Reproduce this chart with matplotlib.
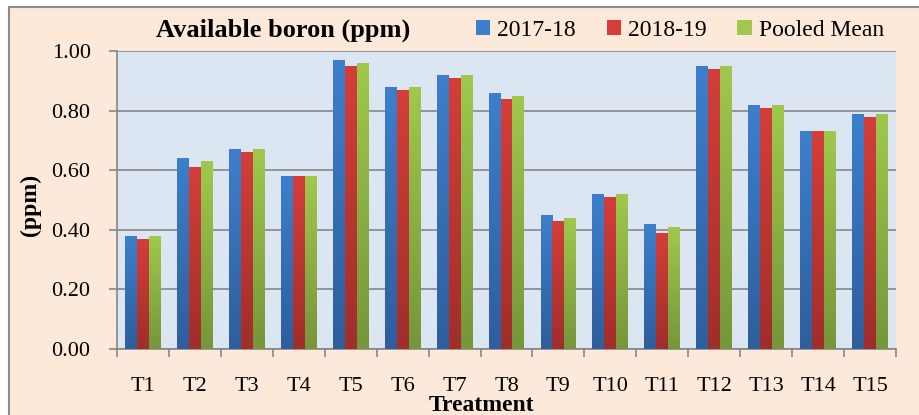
import matplotlib
matplotlib.use("Agg")
import matplotlib.pyplot as plt
import numpy as np
from matplotlib.patches import Rectangle
from matplotlib.colors import LinearSegmentedColormap

categories = ["T1", "T2", "T3", "T4", "T5", "T6", "T7", "T8", "T9", "T10",
              "T11", "T12", "T13", "T14", "T15"]
s2017 = [0.38, 0.64, 0.67, 0.58, 0.97, 0.88, 0.92, 0.86, 0.45, 0.52, 0.42, 0.95, 0.82, 0.73, 0.79]
s2018 = [0.37, 0.61, 0.66, 0.58, 0.95, 0.87, 0.91, 0.84, 0.43, 0.51, 0.39, 0.94, 0.81, 0.73, 0.78]
pooled = [0.38, 0.63, 0.67, 0.58, 0.96, 0.88, 0.92, 0.85, 0.44, 0.52, 0.41, 0.95, 0.82, 0.73, 0.79]
series_names = ["2017-18", "2018-19", "Pooled Mean"]
yticks = [0.0, 0.2, 0.4, 0.6, 0.8, 1.0]

plt.rcParams['font.family'] = ['Liberation Serif', 'DejaVu Serif']

fig = plt.figure(figsize=(9.19, 4.15), dpi=100)
fig.patch.set_facecolor('white')
# chart frame
frame = Rectangle((8.5/919, -0.1), 1.2, 1.1 - 7.5/415, transform=fig.transFigure,
                  facecolor='#FDE9D9', edgecolor='#8C8C8C', linewidth=1.5, zorder=-10)
fig.add_artist(frame)

ax = fig.add_axes([117/919, 1 - 349/415, (896 - 117)/919, (349 - 51)/415])
ax.set_zorder(1)
ax.set_facecolor('#DCE6F2')

grads = [('#3D7FCC', '#2E5E9C'), ('#D43E3A', '#A02E2B'), ('#A0C84C', '#76963A')]
x = np.arange(len(categories))
w = 0.23
data = [s2017, s2018, pooled]
for i, (vals, name, (ctop, cbot)) in enumerate(zip(data, series_names, grads)):
    bars = ax.bar(x + (i - 1) * w, vals, width=w, color=ctop, label=name, zorder=3,
                  linewidth=0)
    cmap = LinearSegmentedColormap.from_list('g%d' % i, [cbot, ctop])
    for b in bars:
        bx, by = b.get_x(), b.get_y()
        bw, bh = b.get_width(), b.get_height()
        grad = np.linspace(0, 1, 100).reshape(-1, 1)
        im = ax.imshow(grad, cmap=cmap, origin='lower', aspect='auto',
                       extent=[bx, bx + bw, by, by + bh], zorder=4)
        im.set_clip_path(b)

ax.set_xlim(-0.5, len(categories) - 0.5)
ax.set_ylim(0, 1.0)
ax.set_yticks(yticks)
ax.set_yticklabels(["%.2f" % t for t in yticks], fontsize=16)
ax.set_xticks(x)
ax.set_xticklabels(categories, fontsize=16)
ax.tick_params(axis='x', length=0, pad=20)
ax.set_xticks(np.arange(-0.5, len(categories), 1), minor=True)
ax.tick_params(axis='x', which='minor', length=6, color='#868686', width=1.2)
ax.tick_params(axis='y', length=6, color='#868686', width=1.2, pad=13)
ax.grid(axis='y', color='#868686', linewidth=1.2, zorder=1)
ax.set_axisbelow(True)
for s in ['top', 'right']:
    ax.spines[s].set_visible(False)
for s in ['left', 'bottom']:
    ax.spines[s].set_color('#868686')
    ax.spines[s].set_linewidth(1.2)

ax.set_xlabel("Treatment", fontsize=17, fontweight='bold', va='center')
ax.xaxis.set_label_coords((482 - 117) / 779, -(405 - 349) / 298)
ax.set_ylabel("(ppm)", fontsize=17, fontweight='bold', va='center')
ax.yaxis.set_label_coords(-(117 - 30) / 779, (349 - 205) / 298)
fig.text(283/919, 1 - 30/415, "Available boron (ppm)", fontsize=19, fontweight='bold',
         ha='center', va='center')

leg = ax.legend(loc='center', bbox_to_anchor=(680/919, 1 - 30/415), bbox_transform=fig.transFigure,
                ncol=3, frameon=False, fontsize=17, handlelength=0.6, handleheight=0.6,
                handletextpad=0.3, columnspacing=1.3)

fig.savefig("out.png", dpi=100, facecolor=fig.get_facecolor())
